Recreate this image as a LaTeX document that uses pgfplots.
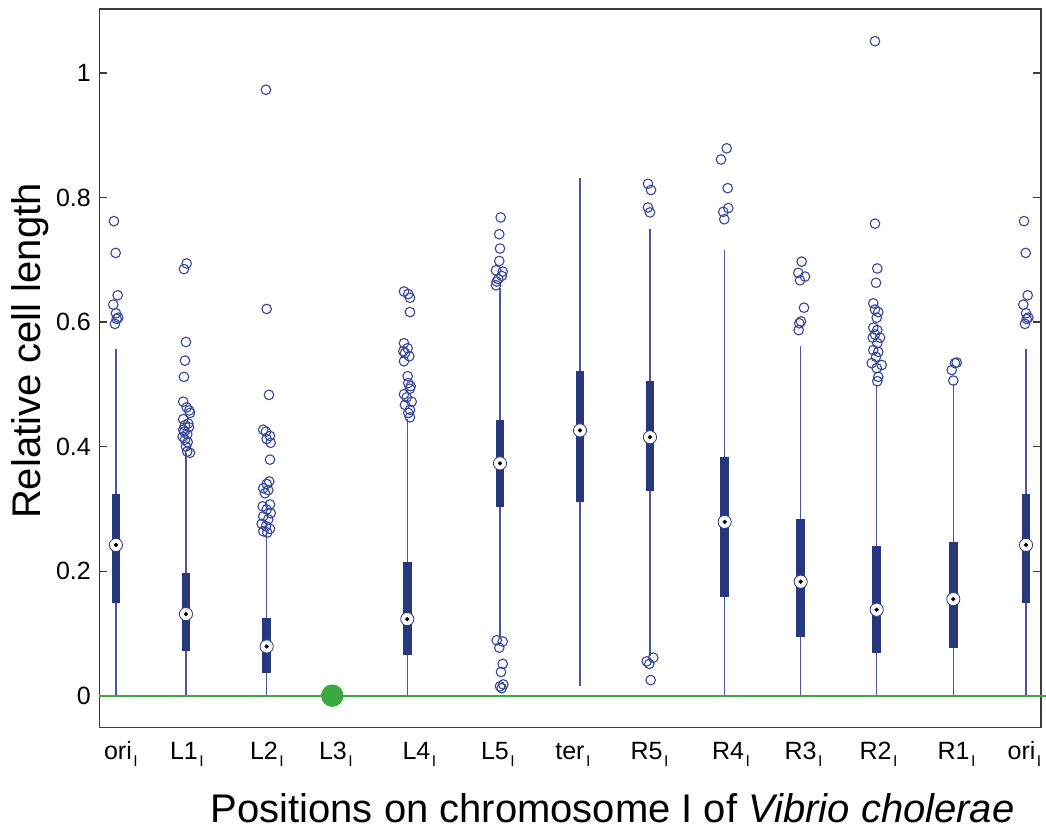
\documentclass[border=0pt]{standalone}
\usepackage{fontspec}
\setmainfont{Liberation Sans}
\usepackage{pgfplots}
\pgfplotsset{compat=1.18}
\usepackage{pgfplotstable}

\definecolor{boxblue}{RGB}{40,56,125}
\definecolor{whiskblue}{RGB}{72,88,165}
\definecolor{outblue}{RGB}{56,70,155}
\definecolor{mgreen}{RGB}{58,170,62}
\definecolor{axisgray}{RGB}{60,60,60}

\newcommand{\sub}[1]{#1\rlap{\kern0.8pt\raisebox{-3.5pt}{\fontsize{7.8}{8}\selectfont I}}}

\pgfplotstableread{
x y
116 0
116 0.557
116 nan
186 0
186 0.389
186 nan
266.7 0
266.7 0.262
266.7 nan
407.3 0
407.3 0.445
407.3 nan
500 0.095
500 0.655
500 nan
580 0.015
580 0.831
580 nan
650 0.063
650 0.749
650 nan
724.7 0
724.7 0.716
724.7 nan
800.7 0
800.7 0.562
800.7 nan
876.7 0
876.7 0.498
876.7 nan
953.3 0
953.3 0.500
953.3 nan
1026 0
1026 0.557
}\whiskers

\pgfplotstableread{
x y
116 0.148
116 0.324
116 nan
186 0.071
186 0.197
186 nan
266.7 0.037
266.7 0.125
266.7 nan
407.3 0.065
407.3 0.215
407.3 nan
500 0.303
500 0.443
500 nan
580 0.311
580 0.522
580 nan
650 0.329
650 0.505
650 nan
724.7 0.158
724.7 0.383
724.7 nan
800.7 0.095
800.7 0.284
800.7 nan
876.7 0.069
876.7 0.240
876.7 nan
953.3 0.077
953.3 0.246
953.3 nan
1026 0.148
1026 0.324
}\boxes

\pgfplotstableread{
x y
116 0.242
186 0.131
266.7 0.079
407.3 0.123
500 0.373
580 0.426
650 0.415
724.7 0.279
800.7 0.183
876.7 0.138
953.3 0.155
1026 0.242
}\medians

\pgfplotstableread{
x y
114 0.762
115.7 0.711
117.7 0.643
113.3 0.628
116 0.614
118.3 0.607
116.7 0.605
115 0.597
186.7 0.694
184 0.685
186 0.568
185 0.538
184 0.512
183.3 0.472
186.7 0.463
189.3 0.458
190 0.454
183.3 0.444
188.3 0.437
185 0.434
189 0.431
183.3 0.427
184.3 0.424
187.3 0.420
182.7 0.416
185 0.411
187.7 0.407
186 0.400
187.3 0.392
190 0.390
266 0.973
266.7 0.621
269 0.483
263.3 0.427
266 0.424
270 0.417
266.7 0.412
270.7 0.406
270 0.379
269.3 0.344
266.7 0.340
263.3 0.333
268.3 0.330
265 0.325
270 0.307
262.7 0.304
266.7 0.299
270.7 0.293
263.3 0.288
268.3 0.283
261.7 0.276
266 0.272
270 0.268
263.3 0.264
267.3 0.262
404 0.649
408.3 0.645
410 0.639
410 0.616
404 0.566
407.7 0.558
403.3 0.553
405 0.550
409.3 0.545
404 0.537
407.7 0.513
408.3 0.502
410.7 0.497
410 0.493
404 0.484
406.7 0.479
411.7 0.472
405 0.467
410 0.459
408.3 0.454
410 0.447
500.7 0.768
499.3 0.741
500 0.718
499.3 0.698
496 0.683
502.7 0.681
501.7 0.674
498.3 0.669
496.7 0.665
496 0.659
496.7 0.089
502.7 0.087
499.3 0.077
502.7 0.051
501 0.038
500 0.015
503.3 0.018
501.7 0.012
648 0.822
651 0.812
648 0.784
650 0.776
646.7 0.055
653.3 0.061
649.3 0.051
650.7 0.025
726.7 0.879
721 0.861
727.7 0.815
728.3 0.783
723.3 0.777
724.3 0.765
801.7 0.697
798.3 0.679
805 0.673
800 0.667
804 0.623
801 0.601
799.3 0.598
798.7 0.587
875 1.051
875 0.758
877.3 0.686
876 0.663
873.3 0.630
875 0.620
878.3 0.616
876.7 0.607
873.3 0.591
877.3 0.587
875 0.580
880 0.575
872.7 0.575
877.3 0.566
873.3 0.555
878.3 0.552
876 0.544
871.7 0.534
881.7 0.531
876.7 0.526
878.3 0.512
877.3 0.505
955 0.534
956.7 0.535
951.7 0.523
953.3 0.506
1024 0.762
1025.7 0.711
1027.7 0.643
1023.3 0.628
1026 0.614
1028.3 0.607
1026.7 0.605
1025 0.597
}\outliers

\begin{document}
\begin{tikzpicture}
\begin{axis}[
  width=471pt, height=359.5pt, scale only axis,
  xmin=99.5, xmax=1041, ymin=-0.0514, ymax=1.1027,
  clip=false,
  axis line style={draw=axisgray, line width=0.8pt},
  xtick={118,184,264,333,416.5,495,570,646.5,728,800.5,875.5,953.5,1021.5},
  xticklabels={\sub{ori},\sub{L1},\sub{L2},\sub{L3},\sub{L4},\sub{L5},\sub{ter},\sub{R5},\sub{R4},\sub{R3},\sub{R2},\sub{R1},\sub{ori}},
  xtick style={draw=none},
  ytick={0,0.2,0.4,0.6,0.8,1},
  yticklabels={0,0.2,0.4,0.6,0.8,1},
  ytick pos=both, xtick pos=bottom, tick align=inside,
  major tick length=4pt,
  ytick style={draw=axisgray, line width=0.6pt},
  ticklabel style={font=\fontsize{12.5}{14}\selectfont},
  yticklabel style={xshift=-0.8pt},
  xticklabel style={text height=9pt, text depth=0pt, yshift=-3.3pt},
  xlabel={Positions on chromosome I of \textit{Vibrio cholerae}},
  xlabel style={font=\fontsize{20}{24}\selectfont, at={(axis description cs:0.545,-0.1321)}, anchor=base},
  ylabel={Relative cell length},
  ylabel style={font=\fontsize{20}{24}\selectfont, at={(axis description cs:-0.0626,0.524)}, anchor=base},
  unbounded coords=jump,
]
\addplot[whiskblue, line width=0.7pt, mark=none] table[x=x,y=y] {\whiskers};
\addplot[boxblue, line width=4.3pt, mark=none] table[x=x,y=y] {\boxes};
\addplot[only marks, mark=o, mark size=2.4pt, mark options={draw=outblue, line width=0.55pt}] table[x=x,y=y] {\outliers};
\addplot[mgreen, line width=1pt, mark=none] coordinates {(99.5,0) (1046,0)};
\addplot[only marks, mark=*, mark size=3.3pt, mark options={fill=white, draw=boxblue, line width=0.4pt}] table[x=x,y=y] {\medians};
\addplot[only marks, mark=*, mark size=0.85pt, mark options={fill=black, draw=black}] table[x=x,y=y] {\medians};
\addplot[only marks, mark=*, mark size=5.4pt, mark options={fill=mgreen, draw=mgreen}] coordinates {(332.3,0)};
\end{axis}
\pgfresetboundingbox
\path[use as bounding box] ([xshift=-49.75pt,yshift=-51.5pt]current axis.south west) rectangle ([xshift=2.5pt,yshift=4.5pt]current axis.north east);
\end{tikzpicture}
\end{document}
